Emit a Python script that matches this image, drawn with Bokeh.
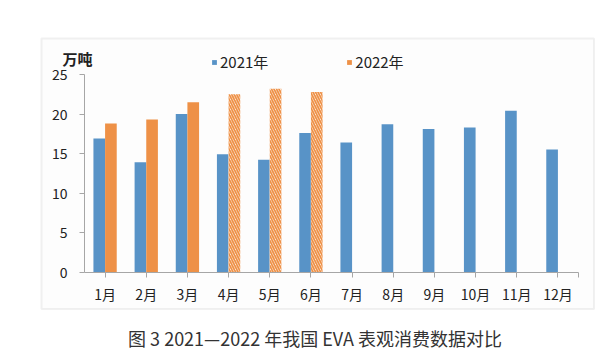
from bokeh.plotting import figure
from bokeh.models import (ColumnDataSource, Range1d, FixedTicker, Label,
                          BoxAnnotation, Legend, LegendItem, LinearAxis)
from bokeh.transform import dodge
from bokeh.embed import file_html
from bokeh.resources import INLINE

months = ["1月", "2月", "3月", "4月", "5月", "6月", "7月", "8月", "9月", "10月", "11月", "12月"]
v2021 = [16.9, 13.9, 20.0, 14.9, 14.2, 17.6, 16.4, 18.7, 18.1, 18.3, 20.4, 15.5]
months_2022 = ["1月", "2月", "3月"]
v2022 = [18.8, 19.3, 21.5]
months_2022_est = ["4月", "5月", "6月"]
v2022_est = [22.5, 23.2, 22.8]
y_ticks = [0, 5, 10, 15, 20, 25]

BLUE = "#5893C7"
ORANGE = "#EE9147"
FONT = "Noto Sans CJK SC"
TXT = "#222222"
AXC = "#A6A6A6"

W, H = 600, 356          # figure size; frame covers whole figure
CAT = 494 / 12           # px per month
PXU = 7.9                # px per unit on y
X0, Y0 = 84, 271.5       # page px of (x=0.5, y=0)

x_start = 0.5 - X0 / CAT
x_end = 0.5 + (W - X0) / CAT
y_end = Y0 / PXU
y_start = -(H - Y0) / PXU

p = figure(width=W, height=H, x_range=Range1d(x_start, x_end), y_range=Range1d(y_start, y_end),
           output_backend="svg", toolbar_location=None, x_axis_type=None, y_axis_type=None,
           min_border=0, min_border_left=0, min_border_right=0, min_border_top=0, min_border_bottom=0)
p.outline_line_color = None
p.grid.visible = False
p.background_fill_color = "white"
p.border_fill_color = "white"

pos = {m: i + 1 for i, m in enumerate(months)}
s21 = ColumnDataSource(dict(x=[pos[m] for m in months], v=v2021))
s22 = ColumnDataSource(dict(x=[pos[m] for m in months_2022], v=v2022))
s22e = ColumnDataSource(dict(x=[pos[m] for m in months_2022_est], v=v2022_est))


def sx(X):  # page px -> frame screen units
    return X


def sy(Y):
    return H - Y


# outer frame box
box = BoxAnnotation(left=sx(41), right=sx(593.5), top=sy(38), bottom=sy(308.5),
                    left_units="screen", right_units="screen", top_units="screen", bottom_units="screen",
                    fill_color="#FDFDFD", fill_alpha=1, line_color="#CFCFCF", line_width=2, level="underlay")
p.add_layout(box)

w = 0.283
r21 = p.vbar(x=dodge("x", -w / 2), top="v", width=w, source=s21,
             fill_color=BLUE, line_color=None)
r22 = p.vbar(x=dodge("x", w / 2), top="v", width=w, source=s22,
             fill_color=ORANGE, line_color=None)
p.vbar(x=dodge("x", w / 2), top="v", width=w, source=s22e,
       fill_color="white", line_color=None, hatch_pattern="left_diagonal_line",
       hatch_color=ORANGE, hatch_scale=5, hatch_weight=1.8)

xaxis = LinearAxis(fixed_location=0, bounds=(0.5, 12.5),
                   ticker=FixedTicker(ticks=list(range(1, 13)) + [12.5]),
                   major_label_overrides={**{i + 1: m for i, m in enumerate(months)}, 12.5: ""})
yaxis = LinearAxis(fixed_location=0.5, bounds=(0, 25), ticker=FixedTicker(ticks=y_ticks))
p.add_layout(xaxis, "below")
p.add_layout(yaxis, "left")

for ax in (xaxis, yaxis):
    ax.axis_line_color = AXC
    ax.major_tick_line_color = AXC
    ax.major_tick_out = 5
    ax.major_tick_in = 0
    ax.minor_tick_line_color = None
    ax.major_label_text_font = FONT
    ax.major_label_text_font_size = "14px"
    ax.major_label_text_color = TXT
yaxis.major_label_standoff = 12
xaxis.major_label_standoff = 7

p.add_layout(Label(x=sx(62), y=sy(58), x_units="screen", y_units="screen", text="万吨",
                   text_font=FONT, text_font_size="15px", text_font_style="bold",
                   text_color=TXT, text_align="left", text_baseline="middle"))

legend = Legend(items=[LegendItem(label="2021年", renderers=[r21]),
                       LegendItem(label="2022年", renderers=[r22])],
                location=(sx(211), sy(72)), orientation="horizontal",
                glyph_width=6, glyph_height=6, label_standoff=3, spacing=78,
                label_height=14, label_width=20,
                padding=0, margin=0, border_line_alpha=0, background_fill_alpha=0,
                label_text_font=FONT, label_text_font_size="15px", label_text_color=TXT)
p.add_layout(legend)

p.add_layout(Label(x=sx(316.5), y=sy(337), x_units="screen", y_units="screen",
                   text="图 3  2021—2022 年我国 EVA 表观消费数据对比",
                   text_font=FONT, text_font_size="18px", text_color="#333333",
                   text_align="center", text_baseline="middle"))

open("out.html", "w").write(file_html(p, INLINE))
